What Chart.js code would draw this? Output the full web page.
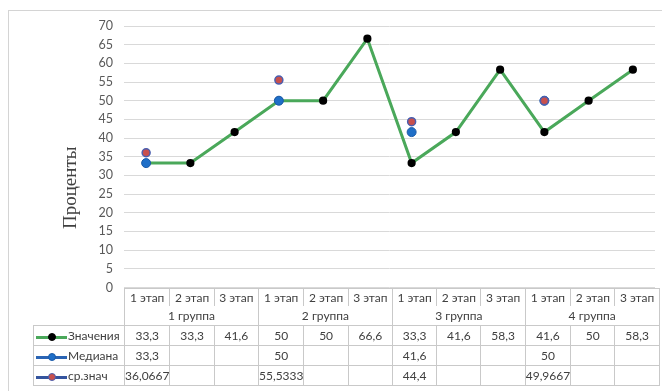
<!DOCTYPE html>
<html>
<head>
<meta charset="utf-8">
<script src="https://cdn.jsdelivr.net/npm/chart.js@4.4.1/dist/chart.umd.min.js"></script>
<style>
    body { margin: 0; background: #fff; width: 662px; height: 391px; overflow: hidden; position: relative; font-family: Lato, "Liberation Sans", sans-serif; }
    #frame { position: absolute; left: 8px; top: 10px; width: 700px; height: 400px; border: 1px solid #d4d4d4; }
    #wrap { position: absolute; left: 0; top: 0; width: 662px; height: 306px; }
    #tbl { position: absolute; border-collapse: collapse; table-layout: fixed; font-size: 12px; color: #404040; }
    #tbl td { padding: 0; text-align: center; white-space: nowrap; overflow: hidden; border: 1px solid #c9c9c9; }
    #tbl tr.stage td { height: 17px; border-bottom: none; }
    #tbl tr.group td { height: 19px; border-top: none; }
    #tbl tr.data td { height: 19px; }
    #tbl td.blank { border: none; }
    #tbl td.name { text-align: left; padding-left: 2px; }
    .key { display: inline-block; position: relative; width: 31px; height: 8px; vertical-align: -1px; margin-right: 1px; }
    .key i { position: absolute; left: 0; top: 3px; width: 31px; height: 3px; }
    .key b { position: absolute; left: 12px; top: 0; width: 8px; height: 8px; border-radius: 50%; box-sizing: border-box; border: 1px solid; }
</style>
</head>
<body>
<div id="frame"></div>
<div id="wrap"><canvas id="chartMain"></canvas></div>
<table id="tbl"></table>
<script>
// Категории
const stageNames = ['1 этап', '2 этап', '3 этап'];
const groupNames = ['1 группа', '2 группа', '3 группа', '4 группа'];

// Ряды
const seriesNames = ['Значения', 'Медиана', 'ср.знач'];
const values = [33.3, 33.3, 41.6, 50, 50, 66.6, 33.3, 41.6, 58.3, 41.6, 50, 58.3];
const medianVals = [33.3, null, null, 50, null, null, 41.6, null, null, 50, null, null];
const meanVals = [36.0667, null, null, 55.5333, null, null, 44.4, null, null, 49.9667, null, null];

// Ось Y
const yTicks = [0, 5, 10, 15, 20, 25, 30, 35, 40, 45, 50, 55, 60, 65, 70];
const yTitle = 'Проценты';

const labels = [];
groupNames.forEach(g => stageNames.forEach(s => labels.push([s, g])));

const COL_GREEN = '#4aa85a';
const COL_BLUE = '#1f6fc8';
const COL_RED = '#c8504d';
const COL_RED_BORDER = '#4a5fb0';

// Подпись оси Y: в Excel она центрирована по всей области вместе с таблицей, поэтому рисуем сами
const yTitlePlugin = {
    id: 'yTitle',
    afterDraw(chart) {
        const { ctx, chartArea } = chart;
        ctx.save();
        ctx.translate(71.5, (chartArea.top + chartArea.bottom) / 2 + 31);
        ctx.rotate(-Math.PI / 2);
        ctx.font = '19px "Liberation Serif"';
        ctx.fillStyle = '#404040';
        ctx.textAlign = 'center';
        ctx.textBaseline = 'middle';
        ctx.fillText(yTitle, 0, 0);
        ctx.restore();
    }
};

const chart = new Chart(document.getElementById('chartMain'), {
    type: 'line',
    data: {
        labels: labels,
        datasets: [
            { label: seriesNames[0], data: values, order: 3, borderColor: COL_GREEN, borderWidth: 3, backgroundColor: '#000', pointBackgroundColor: '#000', pointBorderColor: '#000', pointRadius: 2.6, tension: 0 },
            { label: seriesNames[1], data: medianVals, order: 2, showLine: false, pointBackgroundColor: COL_BLUE, pointBorderColor: '#1a5aa8', pointBorderWidth: 1, pointRadius: 4.5 },
            { label: seriesNames[2], data: meanVals, order: 1, showLine: false, pointBackgroundColor: COL_RED, pointBorderColor: COL_RED_BORDER, pointBorderWidth: 1.5, pointRadius: 4 }
        ]
    },
    options: {
        responsive: true,
        maintainAspectRatio: false,
        animation: false,
        layout: { padding: { left: 58, right: 5, top: 26, bottom: 2 } },
        plugins: { legend: { display: false }, tooltip: { enabled: false } },
        scales: {
            x: { display: false, offset: true, grid: { display: false } },
            y: {
                min: 0, max: 70,
                afterFit: axis => { axis.width = 66; },
                afterBuildTicks: axis => { axis.ticks = yTicks.map(v => ({ value: v })); },
                border: { display: false },
                grid: { color: '#d9d9d9', drawTicks: false, lineWidth: 1 },
                ticks: { padding: 11, color: '#595959', font: { family: 'Lato', size: 12.5 } },
                title: { display: false }
            }
        }
    },
    plugins: [yTitlePlugin]
});

// Таблица данных под графиком
function fmt(v) { return v === null ? '' : String(v).replace('.', ','); }

function buildTable() {
    const area = chart.chartArea;
    const colW = (area.right - area.left) / labels.length;
    const nameW = area.left - 33;
    const tbl = document.getElementById('tbl');
    tbl.style.left = '33px';
    tbl.style.top = Math.round(area.bottom) + 'px';

    let html = '<colgroup><col style="width:' + nameW + 'px">';
    labels.forEach(() => { html += '<col style="width:' + colW + 'px">'; });
    html += '</colgroup>';

    html += '<tr class="stage"><td class="blank"></td>';
    labels.forEach(l => { html += '<td>' + l[0] + '</td>'; });
    html += '</tr><tr class="group"><td class="blank"></td>';
    groupNames.forEach(g => { html += '<td colspan="' + stageNames.length + '">' + g + '</td>'; });
    html += '</tr>';

    const keys = [
        { line: COL_GREEN, fill: '#000', border: '#000' },
        { line: '#2a64b4', fill: COL_BLUE, border: '#1a5aa8' },
        { line: '#34549e', fill: COL_RED, border: COL_RED_BORDER }
    ];
    [values, medianVals, meanVals].forEach((arr, i) => {
        html += '<tr class="data"><td class="name"><span class="key"><i style="background:' + keys[i].line + '"></i><b style="background:' + keys[i].fill + ';border-color:' + keys[i].border + '"></b></span>' + seriesNames[i] + '</td>';
        arr.forEach(v => { html += '<td>' + fmt(v) + '</td>'; });
        html += '</tr>';
    });
    tbl.innerHTML = html;
}
buildTable();
</script>
</body>
</html>
